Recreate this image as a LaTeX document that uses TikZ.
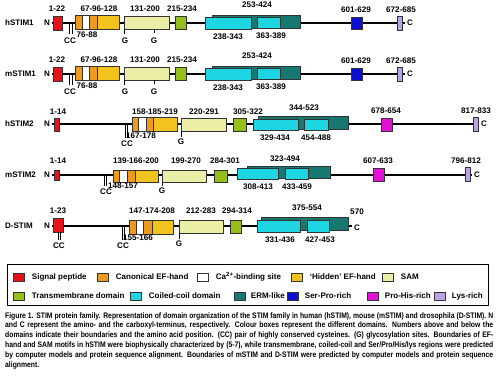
\documentclass[tikz,border=0pt]{standalone}
\usepackage{fontspec}
\setmainfont{Liberation Sans}
\newfontfamily\capfont{Liberation Sans}[FakeStretch=0.85]
\usetikzlibrary{positioning}
\definecolor{sigred}{HTML}{E3121B}
\definecolor{efor}{HTML}{EE9A1C}
\definecolor{hidef}{HTML}{F2C21E}
\definecolor{samyel}{HTML}{EAEDA6}
\definecolor{tmgreen}{HTML}{95BE1A}
\definecolor{cccyan}{HTML}{1ED6E2}
\definecolor{ermteal}{HTML}{17786F}
\definecolor{spblue}{HTML}{0D0DD0}
\definecolor{phmag}{HTML}{E012D6}
\definecolor{lyslil}{HTML}{B9A3E3}
\tikzset{backbone/.style={line width=2.4pt},
  dom/.style={draw=black!80, line width=0.5pt},
  tick/.style={line width=0.6pt},
  lab/.style={font=\bfseries\fontsize{8.1}{9}\selectfont, inner sep=0pt},
  term/.style={font=\bfseries\fontsize{8}{9}\selectfont, inner sep=1.5pt},
  rowname/.style={font=\bfseries\fontsize{8}{9}\selectfont, inner sep=0pt, anchor=west},
  swatch/.style={dom, minimum width=11pt, minimum height=8pt, inner sep=0pt},
  legtext/.style={font=\bfseries\fontsize{8}{9}\selectfont, inner sep=0pt}}

\begin{document}
\begin{tikzpicture}[x=1pt,y=-1pt]
\useasboundingbox (0,0) rectangle (500,375);
% hSTIM1
\node[rowname] (hs1) at (5,23) {hSTIM1};
\node[term] (n1) at (47,23) {N};
\node[term] (c1) at (410,23) {C};
\draw[backbone] (n1) -- (c1);
\draw[dom, fill=sigred] (53,16) rectangle (62,30);
\draw[dom, fill=efor] (75,15) rectangle (82,29);
\draw[dom, fill=white] (82,15) rectangle (89,29);
\draw[dom, fill=efor] (89,15) rectangle (97,29);
\draw[dom, fill=hidef] (97,15) rectangle (119,29);
\draw[dom, fill=samyel] (124,16) rectangle (169,29);
\draw[dom, fill=tmgreen] (175,16) rectangle (186,29);
\draw[dom, fill=ermteal] (212,15) rectangle (300,28);
\draw[dom, fill=cccyan] (205,17) rectangle (251,29);
\draw[dom, fill=cccyan] (257,17) rectangle (280,28);
\draw[dom, fill=spblue] (351,17) rectangle (362,29);
\draw[dom, fill=lyslil] (397,16) rectangle (402,30);
\draw[tick] (69,23) -- (69,34);
\draw[tick] (72,23) -- (72,34);
\draw[tick] (124,29) -- (124,34);
\draw[tick] (154,29) -- (154,33);
\node[lab] (a11) at (57,9) {1-22};
\node[lab] (a12) at (99,9) {67-96-128};
\node[lab] (a13) at (145,9) {131-200};
\node[lab] (a14) at (182,9) {215-234};
\node[lab] (a15) at (257,5) {253-424};
\node[lab] (a16) at (356,10) {601-629};
\node[lab] (a17) at (401,10) {672-685};
\node[lab] (b11) at (70,41) {CC};
\node[lab] (b12) at (87,35) {76-88};
\node[lab] (b13) at (125,41) {G};
\node[lab] (b14) at (154,41) {G};
\node[lab] (b15) at (228,37) {238-343};
\node[lab] (b16) at (271,36) {363-389};
% mSTIM1
\node[rowname] (ms1) at (5,74) {mSTIM1};
\node[term] (n2) at (47,74) {N};
\node[term] (c2) at (410,74) {C};
\draw[backbone] (n2) -- (c2);
\draw[dom, fill=sigred] (53,67) rectangle (62,81);
\draw[dom, fill=efor] (75,66) rectangle (82,80);
\draw[dom, fill=white] (82,66) rectangle (89,80);
\draw[dom, fill=efor] (89,66) rectangle (97,80);
\draw[dom, fill=hidef] (97,66) rectangle (119,80);
\draw[dom, fill=samyel] (124,67) rectangle (169,80);
\draw[dom, fill=tmgreen] (175,67) rectangle (186,80);
\draw[dom, fill=ermteal] (212,66) rectangle (300,79);
\draw[dom, fill=cccyan] (205,68) rectangle (251,80);
\draw[dom, fill=cccyan] (257,68) rectangle (280,79);
\draw[dom, fill=spblue] (351,68) rectangle (362,80);
\draw[dom, fill=lyslil] (397,67) rectangle (402,81);
\draw[tick] (69,74) -- (69,85);
\draw[tick] (72,74) -- (72,85);
\draw[tick] (124,80) -- (124,85);
\draw[tick] (154,80) -- (154,84);
\node[lab] (a21) at (57,60) {1-22};
\node[lab] (a22) at (99,60) {67-96-128};
\node[lab] (a23) at (145,60) {131-200};
\node[lab] (a24) at (182,60) {215-234};
\node[lab] (a25) at (257,56) {253-424};
\node[lab] (a26) at (356,61) {601-629};
\node[lab] (a27) at (401,61) {672-685};
\node[lab] (b21) at (70,92) {CC};
\node[lab] (b22) at (87,86) {76-88};
\node[lab] (b23) at (125,92) {G};
\node[lab] (b24) at (154,92) {G};
\node[lab] (b25) at (228,88) {238-343};
\node[lab] (b26) at (271,87) {363-389};
% hSTIM2
\node[rowname] (hs2) at (5,124) {hSTIM2};
\node[term] (n3) at (47,124) {N};
\node[term] (c3) at (484,124) {C};
\draw[backbone] (n3) -- (c3);
\draw[dom, fill=sigred] (54,118) rectangle (59,131);
\draw[dom, fill=efor] (132,117) rectangle (138,131);
\draw[dom, fill=white] (138,117) rectangle (146,131);
\draw[dom, fill=efor] (146,117) rectangle (153,131);
\draw[dom, fill=hidef] (153,117) rectangle (177,131);
\draw[dom, fill=samyel] (181,118) rectangle (226,131);
\draw[dom, fill=tmgreen] (233,118) rectangle (246,131);
\draw[dom, fill=ermteal] (258,116) rectangle (348,129);
\draw[dom, fill=cccyan] (253,119) rectangle (298,130);
\draw[dom, fill=cccyan] (304,119) rectangle (328,130);
\draw[dom, fill=phmag] (381,118) rectangle (392,131);
\draw[dom, fill=lyslil] (473,117) rectangle (478,131);
\draw[tick] (125,124) -- (125,138);
\draw[tick] (127,124) -- (127,138);
\draw[tick] (181,131) -- (181,137);
\node[lab] (a31) at (58,112) {1-14};
\node[lab] (a32) at (155,112) {158-185-219};
\node[lab] (a33) at (204,112) {220-291};
\node[lab] (a34) at (248,112) {305-322};
\node[lab] (a35) at (304,108) {344-523};
\node[lab] (a36) at (386,111) {678-654};
\node[lab] (a37) at (476,111) {817-833};
\node[lab] (b31) at (127,144) {CC};
\node[lab] (b32) at (141,136) {167-178};
\node[lab] (b33) at (181,142) {G};
\node[lab] (b34) at (275,138) {329-434};
\node[lab] (b35) at (316,138) {454-488};
% mSTIM2
\node[rowname] (ms2) at (5,175) {mSTIM2};
\node[term] (n4) at (47,175) {N};
\node[term] (c4) at (477,175) {C};
\draw[backbone] (n4) -- (c4);
\draw[dom, fill=sigred] (54,170) rectangle (59,180);
\draw[dom, fill=efor] (113,170) rectangle (119,182);
\draw[dom, fill=white] (119,170) rectangle (127,182);
\draw[dom, fill=efor] (127,170) rectangle (135,182);
\draw[dom, fill=hidef] (135,170) rectangle (158,182);
\draw[dom, fill=samyel] (162,170) rectangle (206,182);
\draw[dom, fill=tmgreen] (214,170) rectangle (227,182);
\draw[dom, fill=ermteal] (247,166) rectangle (330,178);
\draw[dom, fill=cccyan] (237,168) rectangle (278,179);
\draw[dom, fill=cccyan] (285,168) rectangle (308,179);
\draw[dom, fill=phmag] (373,168) rectangle (384,181);
\draw[dom, fill=lyslil] (465,167) rectangle (470,181);
\draw[tick] (104,175) -- (104,186);
\draw[tick] (106,175) -- (106,186);
\draw[tick] (162,182) -- (162,186);
\node[lab] (a41) at (58,161) {1-14};
\node[lab] (a42) at (136,161) {139-166-200};
\node[lab] (a43) at (186,161) {199-270};
\node[lab] (a44) at (225,161) {284-301};
\node[lab] (a45) at (285,159) {323-494};
\node[lab] (a46) at (378,161) {607-633};
\node[lab] (a47) at (466,161) {796-812};
\node[lab] (b41) at (106,192) {CC};
\node[lab] (b42) at (123,186) {148-157};
\node[lab] (b43) at (162,191) {G};
\node[lab] (b44) at (258,187) {308-413};
\node[lab] (b45) at (297,187) {433-459};
% D-STIM
\node[rowname] (ds) at (5,226) {D-STIM};
\node[term] (n5) at (47,226) {N};
\node[term] (c5) at (357,228) {C};
\draw[backbone] (n5) -- (n5 -| c5.west);
\draw[dom, fill=sigred] (53,218) rectangle (63,232);
\draw[dom, fill=efor] (129,220) rectangle (136,234);
\draw[dom, fill=white] (136,220) rectangle (143,234);
\draw[dom, fill=efor] (143,220) rectangle (152,234);
\draw[dom, fill=hidef] (152,220) rectangle (173,234);
\draw[dom, fill=samyel] (179,220) rectangle (223,233);
\draw[dom, fill=tmgreen] (230,220) rectangle (241,233);
\draw[dom, fill=ermteal] (261,217) rectangle (348,230);
\draw[dom, fill=cccyan] (257,220) rectangle (300,232);
\draw[dom, fill=cccyan] (307,220) rectangle (329,232);
\draw[tick] (58,232) -- (58,240);
\draw[tick] (60,232) -- (60,240);
\draw[tick] (122,226) -- (122,240);
\draw[tick] (124,226) -- (124,240);
\draw[tick] (179,233) -- (179,239);
\node[lab] (a51) at (58,211) {1-23};
\node[lab] (a52) at (152,211) {147-174-208};
\node[lab] (a53) at (201,211) {212-283};
\node[lab] (a54) at (237,211) {294-314};
\node[lab] (a55) at (307,208) {375-554};
\node[lab] (a56) at (357,212) {570};
\node[lab] (b51) at (59,246) {CC};
\node[lab] (b52) at (123,246) {CC};
\node[lab] (b53) at (138,238) {155-166};
\node[lab] (b54) at (179,244) {G};
\node[lab] (b55) at (280,240) {331-436};
\node[lab] (b56) at (320,240) {427-453};
% legend
\draw[line width=0.9pt] (7,264) rectangle (488,305);
\node[swatch, fill=sigred] (lsig) at (19,277) {};
\node[legtext, right=7pt of lsig] (tsig) {Signal peptide};
\node[swatch, fill=efor] (lef) at (103,277) {};
\node[legtext, right=7pt of lef] (tef) {Canonical EF-hand};
\node[swatch, fill=white] (lca) at (203,277) {};
\node[legtext, right=7pt of lca] (tca) {Ca\textsuperscript{2+}-binding site};
\node[swatch, fill=hidef] (lhid) at (297,277) {};
\node[legtext, right=7pt of lhid] (thid) {`Hidden' EF-hand};
\node[swatch, fill=samyel] (lsam) at (388,277) {};
\node[legtext, right=7pt of lsam] (tsam) {SAM};
\node[swatch, fill=tmgreen] (ltm) at (19,296) {};
\node[legtext, right=7pt of ltm] (ttm) {Transmembrane domain};
\node[swatch, fill=cccyan] (lcc) at (136,296) {};
\node[legtext, right=7pt of lcc] (tcc) {Coiled-coil domain};
\node[swatch, fill=ermteal] (lerm) at (240,296) {};
\node[legtext, right=5pt of lerm] (term) {ERM-like};
\node[swatch, fill=spblue] (lsp) at (293,296) {};
\node[legtext, right=6pt of lsp] (tsp) {Ser-Pro-rich};
\node[swatch, fill=phmag] (lph) at (373,296) {};
\node[legtext, right=6pt of lph] (tph) {Pro-His-rich};
\node[swatch, fill=lyslil] (llys) at (440,296) {};
\node[legtext, right=6pt of llys] (tlys) {Lys-rich};
% caption
\node[anchor=north west, inner sep=0pt, text width=488pt, align=justify,
  font=\capfont\bfseries\fontsize{8}{9.8}\selectfont] (cap) at (5,312)
  {Figure 1. STIM protein family. Representation of domain organization of the STIM family in human (hSTIM), mouse (mSTIM) and drosophila (D-STIM). N\linebreak
  and C represent the amino- and the carboxyl-terminus, respectively. Colour boxes represent the different domains. Numbers above and below the\linebreak
  domains indicate their boundaries and the amino acid position. (CC) pair of highly conserved cysteines. (G) glycosylation sites. Boundaries of EF-\linebreak
  hand and SAM motifs in hSTIM were biophysically characterized by (5-7), while transmembrane, coiled-coil and Ser/Pro/His/lys regions were predicted\linebreak
  by computer models and protein sequence alignment. Boundaries of mSTIM and D-STIM were predicted by computer models and protein sequence\linebreak
  alignment.};
\end{tikzpicture}
\end{document}
